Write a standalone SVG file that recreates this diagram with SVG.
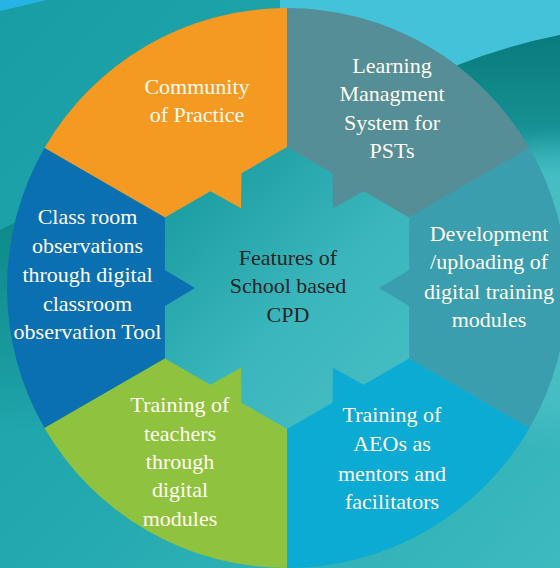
<svg xmlns="http://www.w3.org/2000/svg" width="560" height="568" viewBox="0 0 560 568">
  <defs>
    <linearGradient id="bg" x1="0" y1="0" x2="1" y2="1">
      <stop offset="0" stop-color="#179DA3"/>
      <stop offset="0.5" stop-color="#22A8AF"/>
      <stop offset="1" stop-color="#3DBABE"/>
    </linearGradient>
    <linearGradient id="darkwedge" x1="0" y1="0" x2="0" y2="1">
      <stop offset="0" stop-color="#087B7D"/>
      <stop offset="0.6" stop-color="#168F92"/>
      <stop offset="1" stop-color="#168F92" stop-opacity="0"/>
    </linearGradient>
    <linearGradient id="leftband" x1="0" y1="0" x2="0" y2="1">
      <stop offset="0" stop-color="#0D8987"/>
      <stop offset="0.6" stop-color="#17989B"/>
      <stop offset="1" stop-color="#17989B" stop-opacity="0"/>
    </linearGradient>
    <radialGradient id="rightglow" cx="560" cy="290" r="160" gradientUnits="userSpaceOnUse">
      <stop offset="0" stop-color="#4CC1C7"/>
      <stop offset="0.7" stop-color="#46BDC3"/>
      <stop offset="1" stop-color="#46BDC3" stop-opacity="0"/>
    </radialGradient>
    <linearGradient id="hub" x1="0" y1="0" x2="1" y2="1">
      <stop offset="0" stop-color="#109497"/>
      <stop offset="0.55" stop-color="#3AB6BC"/>
      <stop offset="1" stop-color="#4AC0C5"/>
    </linearGradient>
    <style>
      .lbl { font-family: 'Liberation Serif', serif; font-size: 22px; fill: #FFFBF0; text-anchor: middle; }
      .hub { font-family: 'Liberation Serif', serif; font-size: 22px; fill: #262626; text-anchor: middle; }
    </style>
  </defs>

  <!-- background -->
  <rect x="0" y="0" width="560" height="568" fill="url(#bg)"/>
  <path d="M0,0 L0,11 Q22,6 46,0 Z" fill="#28B3E6"/>
  <path d="M280,0 L560,0 L560,35 Q505,46 458,65 L380,100 L280,100 Z" fill="#44C2D9"/>
  <path d="M458,65 Q505,46 560,35 L560,180 L500,180 L440,100 Z" fill="url(#darkwedge)"/>
  <path d="M0,230 L40,210 L40,430 L0,430 Z" fill="url(#leftband)"/>
  <rect x="400" y="130" width="160" height="320" fill="url(#rightglow)"/>

  <!-- hub background -->
  <circle cx="287" cy="288" r="145" fill="url(#hub)"/>

  <g id="node-lms">
    <path d="M287,147 L287,8 A280,280 0 0 1 529.5,148 L409.1,217.5 L363.6,191.3 L333,208.3 L332.5,173.3 Z" fill="#558E97"/>
    <text class="lbl" x="392" y="73">Learning</text>
    <text class="lbl" x="392" y="101">Managment</text>
    <text class="lbl" x="392" y="130">System for</text>
    <text class="lbl" x="392" y="158">PSTs</text>
  </g>

  <g id="node-community">
    <path d="M164.9,217.5 L44.5,148 A280,280 0 0 1 287,8 L287,147 L241.5,173.3 L241,208.3 L210.4,191.3 Z" fill="#F49A22"/>
    <text class="lbl" x="197" y="94">Community</text>
    <text class="lbl" x="197" y="122">of Practice</text>
  </g>

  <g id="node-classroom">
    <path d="M164.9,358.5 L44.5,428 A280,280 0 0 1 44.5,148 L164.9,217.5 L164.9,270 L195,288 L164.9,306 Z" fill="#0B70B2"/>
    <text class="lbl" x="87.5" y="224">Class room</text>
    <text class="lbl" x="87.5" y="253">observations</text>
    <text class="lbl" x="87.5" y="282">through digital</text>
    <text class="lbl" x="87.5" y="311">classroom</text>
    <text class="lbl" x="87.5" y="339">observation Tool</text>
  </g>

  <g id="node-teachers">
    <path d="M287,429 L287,568 A280,280 0 0 1 44.5,428 L164.9,358.5 L210.4,384.7 L241,367.7 L241.5,402.7 Z" fill="#8FC33F"/>
    <text class="lbl" x="180" y="412">Training of</text>
    <text class="lbl" x="180" y="441">teachers</text>
    <text class="lbl" x="180" y="469">through</text>
    <text class="lbl" x="180" y="497">digital</text>
    <text class="lbl" x="180" y="526">modules</text>
  </g>

  <g id="node-aeos">
    <path d="M409.1,358.5 L529.5,428 A280,280 0 0 1 287,568 L287,429 L332.5,402.7 L333,367.7 L363.6,384.7 Z" fill="#0BABD4"/>
    <text class="lbl" x="392" y="422">Training of</text>
    <text class="lbl" x="392" y="451">AEOs as</text>
    <text class="lbl" x="392" y="481">mentors and</text>
    <text class="lbl" x="392" y="509">facilitators</text>
  </g>

  <g id="node-development">
    <path d="M409.1,217.5 L529.5,148 A280,280 0 0 1 529.5,428 L409.1,358.5 L409.1,306 L379,288 L409.1,270 Z" fill="#3A9EAE"/>
    <text class="lbl" x="489" y="241">Development</text>
    <text class="lbl" x="489" y="269">/uploading of</text>
    <text class="lbl" x="489" y="299">digital training</text>
    <text class="lbl" x="489" y="327">modules</text>
  </g>

  <g id="node-center">
    <text class="hub" x="288" y="265">Features of</text>
    <text class="hub" x="288" y="293">School based</text>
    <text class="hub" x="288" y="322">CPD</text>
  </g>
</svg>
